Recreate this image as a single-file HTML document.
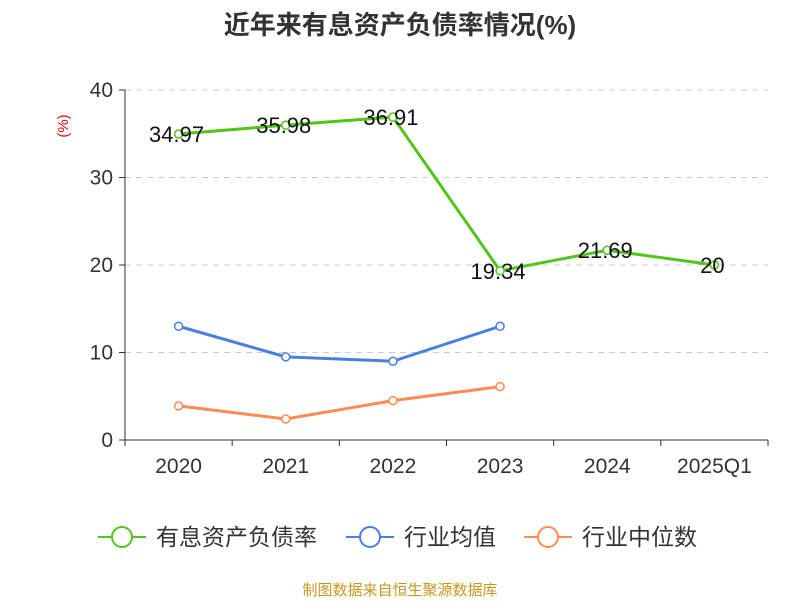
<!DOCTYPE html>
<html><head><meta charset="utf-8"><style>
body{margin:0;background:#fff;}
svg{font-family:"Liberation Sans","Noto Sans CJK SC",sans-serif;}
</style></head><body>
<svg id="chart" width="800" height="600">
<text x="400" y="34" text-anchor="middle" font-size="26" font-weight="bold" fill="#333">近年来有息资产负债率情况(%)</text>
<text x="68" y="126" font-size="15" fill="#e00" transform="rotate(-90 68 126)" text-anchor="middle">(%)</text>
<g id="grid"></g><g id="axes"></g><g id="series"></g>
<g>
<g><line x1="98" y1="537" x2="146" y2="537" stroke="#52c41a" stroke-width="2"/><circle cx="122" cy="537" r="10" fill="#fff" stroke="#52c41a" stroke-width="2"/><text x="156" y="545" font-size="23" fill="#333">有息资产负债率</text></g>
<g><line x1="346" y1="537" x2="394" y2="537" stroke="#4a7fe0" stroke-width="2"/><circle cx="370" cy="537" r="10" fill="#fff" stroke="#4a7fe0" stroke-width="2"/><text x="404" y="545" font-size="23" fill="#333">行业均值</text></g>
<g><line x1="524" y1="537" x2="572" y2="537" stroke="#ff8c55" stroke-width="2"/><circle cx="548" cy="537" r="10" fill="#fff" stroke="#ff8c55" stroke-width="2"/><text x="582" y="545" font-size="23" fill="#333">行业中位数</text></g>
</g>
<text x="400" y="595" text-anchor="middle" font-size="15" fill="#c8961e">制图数据来自恒生聚源数据库</text>
</svg>
<script>
const categories=["2020","2021","2022","2023","2024","2025Q1"];
const debtRatio=[34.97,35.98,36.91,19.34,21.69,20];
const debtLabels=["34.97","35.98","36.91","19.34","21.69","20"];
const industryAvg=[13.0,9.5,9.0,13.0];
const industryMedian=[3.9,2.4,4.5,6.1];
const yTicks=[0,10,20,30,40];
const NS="http://www.w3.org/2000/svg";
const x0=125,x1=768,y0=440,y1=90,yMax=40;
const bw=(x1-x0)/categories.length;
const xs=i=>x0+bw*(i+0.5);
const ys=v=>y0-(v/yMax)*(y0-y1);
function mk(tag,attrs,parent,text){const e=document.createElementNS(NS,tag);for(const k in attrs)e.setAttribute(k,attrs[k]);if(text!==undefined)e.textContent=text;parent.appendChild(e);return e;}
const grid=document.getElementById('grid'),axes=document.getElementById('axes'),ser=document.getElementById('series');
yTicks.forEach(t=>{
 if(t>0){const g=mk('line',{x1:x0,x2:x1,y1:ys(t),y2:ys(t),stroke:'#ccc','stroke-dasharray':'6,5'},grid);
 
 }
 const tk=mk('line',{x1:x0-6,x2:x0,y1:ys(t),y2:ys(t),stroke:'#333'},axes);
 
 
 const lb=mk('text',{x:x0-12,y:ys(t)+7,'text-anchor':'end','font-size':21,fill:'#333'},axes,String(t));
 
 
});
const ya=mk('line',{x1:x0,x2:x0,y1:y1,y2:y0,stroke:'#333'},axes);


const xa=mk('line',{x1:x0,x2:x1,y1:y0,y2:y0,stroke:'#333'},axes);


for(let i=0;i<=categories.length;i++){const t=mk('line',{x1:x0+bw*i,x2:x0+bw*i,y1:y0,y2:y0+6,stroke:'#333'},axes);
 
 }
categories.forEach((c,i)=>{const t=mk('text',{x:xs(i),y:473,'text-anchor':'middle','font-size':21,fill:'#333'},axes,c);
 
 });
function line(vals,color,name){
 const p=mk('polyline',{points:vals.map((v,i)=>xs(i)+','+ys(v)).join(' '),fill:'none',stroke:color,'stroke-width':3},ser);
 
 
 vals.forEach((v,i)=>{const c=mk('circle',{cx:xs(i),cy:ys(v),r:4,fill:'#fff',stroke:color,'stroke-width':1.5},ser);
  
  });
}
line(debtRatio,'#52c41a','debt-ratio');
line(industryAvg,'#4a7fe0','industry-avg');
line(industryMedian,'#ff8c55','industry-median');
debtRatio.forEach((v,i)=>{const t=mk('text',{x:xs(i)-2,y:ys(v)+8,'text-anchor':'middle','font-size':22,fill:'#111'},ser,debtLabels[i]);
 
 });
</script>
</body></html>
